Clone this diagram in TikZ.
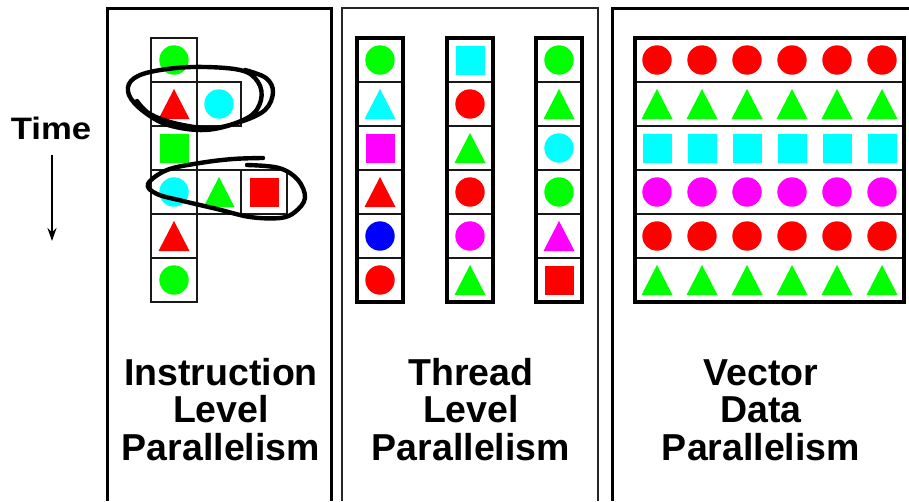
\documentclass[tikz,border=0pt]{standalone}
\usepackage{fontspec}
\setmainfont{Liberation Sans}
\usetikzlibrary{arrows.meta}
\definecolor{cgreen}{RGB}{0,255,0}
\definecolor{cred}{RGB}{255,0,0}
\definecolor{ccyan}{RGB}{0,255,255}
\definecolor{cmag}{RGB}{255,0,255}
\definecolor{cblue}{RGB}{0,0,255}
\newcommand{\ShC}[3]{\fill[#3] (#1,#2) circle[radius=14.7pt];}
\newcommand{\ShS}[3]{\fill[#3] (#1,#2) ++(-14.5,-14.5) rectangle ++(29,29);}
\newcommand{\ShT}[3]{\fill[#3] (#1,#2) ++(-15.5,15) -- ++(31,0) -- ++(-15.5,-30) -- cycle;}
\newcommand{\Sh}[4]{\csname Sh#1\endcsname{#2}{#3}{#4}}
\tikzset{
  panelline/.style={line width=3pt, draw=black},
  panelthin/.style={line width=2.4pt, draw=black!85},
  cell/.style={draw=black!90, line width=2.8pt},
  outerbox/.style={draw=black, line width=3.4pt},
  lbl/.style={font=\bfseries\fontsize{37.5}{37.5}\selectfont, align=center, anchor=base, inner sep=0pt},
  timelbl/.style={font=\bfseries\fontsize{31}{31}\selectfont, anchor=base, inner sep=0pt},
  timearrow/.style={line width=2.2pt, -{Stealth[length=13pt,width=9pt]}},
  scribble/.style={line width=4.4pt, line cap=round, line join=round, draw=black},
}
\begin{document}
\begin{tikzpicture}[x=1pt,y=-1pt]
\useasboundingbox (0,0) rectangle (909,501);
\fill[white] (0,0) rectangle (909,501);

% panels
\draw[panelline] (107,501) -- (107,8) -- (331,8) -- (331,501);
\draw[panelthin] (342,501) -- (342,8) -- (598,8) -- (598,501);
\draw[panelline] (612,501) -- (612,8) -- (909,8);

% Time label and arrow
\node[timelbl] (time) at (51,139) {\scalebox{1.12}[1]{Time}};
\coordinate (tA) at (52,155);
\coordinate (tB) at (52,241);
\draw[timearrow] (tA) -- (tB);

% ---- ILP ----
\foreach \i in {0,...,5} {
  \draw[cell] (151,{38+44*\i}) rectangle (197,{82+44*\i});
}
\draw[cell] (197,82) rectangle (241,126);
\draw[cell] (197,170) rectangle (241,214);
\draw[cell] (241,170) rectangle (287,214);
\Sh{C}{174}{60}{cgreen}
\Sh{T}{174}{104}{cred}
\Sh{C}{219}{104}{ccyan}
\Sh{S}{174}{148}{cgreen}
\Sh{C}{174}{192}{ccyan}
\Sh{T}{219}{192}{cgreen}
\Sh{S}{264}{192}{cred}
\Sh{T}{174}{236}{cred}
\Sh{C}{174}{280}{cgreen}

% scribbles
\draw[scribble] plot[smooth, tension=0.6] coordinates {
  (245,70) (266,78) (273,92) (265,110) (240,122) (205,130) (168,125)
  (143,111) (129,95) (131,81) (150,72) (192,67) (240,70) (258,82)
  (261,100) (249,117) (215,128) (178,124) (150,114) (137,101)};
\draw[scribble] plot[smooth, tension=0.6] coordinates {
  (263,158) (233,159) (200,163) (167,170) (148,184) (157,194) (183,201)
  (217,209) (250,217) (280,218) (295,212) (305,198) (298,180) (279,168) (247,165)};

% ---- TLP ----
\foreach \x in {357,447,536} {
  \foreach \i in {0,...,5} {
    \draw[cell] (\x,{38+44*\i}) rectangle ({\x+46},{82+44*\i});
  }
  \draw[outerbox] (\x,38) rectangle ({\x+46},302);
}
\foreach \s/\c [count=\k from 0] in {C/cgreen,T/ccyan,S/cmag,T/cred,C/cblue,C/cred} {
  \Sh{\s}{380}{60+44*\k}{\c}
}
\foreach \s/\c [count=\k from 0] in {S/ccyan,C/cred,T/cgreen,C/cred,C/cmag,T/cgreen} {
  \Sh{\s}{470}{60+44*\k}{\c}
}
\foreach \s/\c [count=\k from 0] in {C/cgreen,T/cgreen,C/ccyan,C/cgreen,T/cmag,S/cred} {
  \Sh{\s}{559}{60+44*\k}{\c}
}

% ---- Vector ----
\foreach \i in {0,...,5} {
  \draw[cell] (635,{38+44*\i}) rectangle (904,{82+44*\i});
}
\draw[outerbox] (635,38) rectangle (904,302);
\foreach \s/\c [count=\k from 0] in {C/cred,T/cgreen,S/ccyan,C/cmag,C/cred,T/cgreen} {
  \foreach \j in {0,...,5} {
    \Sh{\s}{657+45*\j}{60+44*\k}{\c}
  }
}

% labels (base = baseline of last line)
\node[lbl] (ilp) at (221,460) {Instruction\\Level\\Parallelism};
\node[lbl] (tlp) at (471,460) {Thread\\Level\\Parallelism};
\node[lbl] (vdp) at (761,460) {Vector\\Data\\Parallelism};
\end{tikzpicture}
\end{document}
